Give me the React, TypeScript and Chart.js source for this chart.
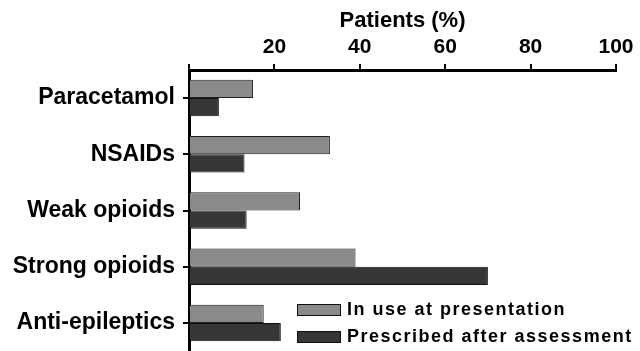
import React, { useEffect, useRef } from "react";
import { Chart, registerables } from "chart.js";

Chart.register(...registerables);

const categories = ["Paracetamol", "NSAIDs", "Weak opioids", "Strong opioids", "Anti-epileptics"];
const inUseAtPresentation = [15, 33, 26, 39, 17.5];
const prescribedAfterAssessment = [7, 13, 13.5, 70, 21.5];
const seriesLabels = ["In use at presentation", "Prescribed after assessment"];
const xTickValues = [20, 40, 60, 80, 100];
const axisTitle = "Patients (%)";

const FONT = '"Liberation Sans", Arial, Helvetica, sans-serif';
const GRAY = "#8a8a8a";
const DARK = "#363636";
const seriesColors = [GRAY, DARK];

export default function App() {
  const canvasRef = useRef<HTMLCanvasElement | null>(null);

  useEffect(() => {
    const canvas = canvasRef.current;
    if (!canvas) return;
    const chart = new Chart(canvas, {
      type: "bar",
      data: {
        labels: categories,
        datasets: [
          {
            label: seriesLabels[0],
            data: inUseAtPresentation,
            backgroundColor: seriesColors[0],
            borderColor: "#1e1e1e",
            borderWidth: 1,
            categoryPercentage: 0.65,
            barPercentage: 1,
          },
          {
            label: seriesLabels[1],
            data: prescribedAfterAssessment,
            backgroundColor: seriesColors[1],
            borderColor: "#111",
            borderWidth: 1,
            categoryPercentage: 0.65,
            barPercentage: 1,
          },
        ],
      },
      options: {
        indexAxis: "y",
        animation: false,
        responsive: false,
        devicePixelRatio: 1,
        layout: { padding: { left: 0, right: 24, top: 0, bottom: 0 } },
        plugins: {
          legend: { display: false },
          tooltip: { enabled: false },
        },
        scales: {
          x: {
            position: "top",
            min: 0,
            max: 100,
            afterBuildTicks: (s: any) => {
              s.ticks = [0, ...xTickValues].map((v) => ({ value: v }));
            },
            ticks: {
              callback: (v: any) => (xTickValues.includes(Number(v)) ? String(v) : ""),
              color: "#000",
              font: { family: FONT, size: 21, weight: "bold" },
              padding: 4,
              maxRotation: 0,
            },
            grid: {
              drawOnChartArea: false,
              drawTicks: true,
              tickLength: 6,
              color: "#000",
              lineWidth: 2,
            },
            border: { display: true, color: "#000", width: 3 },
            title: {
              display: true,
              text: axisTitle,
              color: "#000",
              font: { family: FONT, size: 22, weight: "bold" },
              padding: { top: 8, bottom: 0 },
            },
            afterFit: (s: any) => {
              s.height = 70;
            },
          },
          y: {
            ticks: {
              color: "#000",
              font: { family: FONT, size: 23, weight: "bold" },
              padding: 8,
            },
            grid: {
              drawOnChartArea: false,
              drawTicks: true,
              offset: false,
              tickLength: 6,
              color: "#000",
              lineWidth: 2,
            },
            border: { display: true, color: "#000", width: 3 },
            afterFit: (s: any) => {
              s.width = 189;
              s.paddingTop = 0;
              s.paddingBottom = 0;
            },
          },
        },
      },
    } as any);
    return () => chart.destroy();
  }, []);

  return (
    <div style={{ position: "fixed", left: 0, top: 0, width: 640, height: 351, background: "#fff" }}>
      <canvas ref={canvasRef} width={640} height={351} style={{ display: "block", width: 640, height: 351 }} />
      <div
        style={{
          position: "absolute",
          left: 297,
          top: 296,
          fontFamily: FONT,
          fontWeight: "bold",
          fontSize: 18,
          letterSpacing: 1.5,
          color: "#000",
          lineHeight: "27px",
        }}
      >
        {seriesLabels.map((label, i) => (
          <div key={label} style={{ display: "flex", alignItems: "center", height: 27, whiteSpace: "nowrap" }}>
            <span
              style={{
                display: "inline-block",
                width: 42,
                height: 10,
                background: seriesColors[i],
                border: "1px solid #111",
                marginRight: 6,
              }}
            />
            <span>{label}</span>
          </div>
        ))}
      </div>
    </div>
  );
}
